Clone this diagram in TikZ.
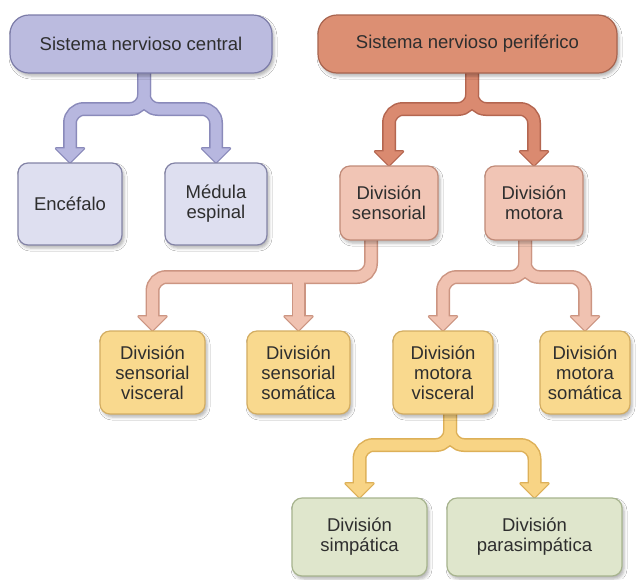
\documentclass[tikz,border=0pt]{standalone}
\usepackage{fontspec}
\setmainfont{Liberation Sans}
\usetikzlibrary{calc,shadows.blur,backgrounds}

\definecolor{txt}{HTML}{2E2E2E}
\definecolor{sncF}{HTML}{BBBBDF}
\definecolor{sncD}{HTML}{7C7CA8}
\definecolor{snckF}{HTML}{DEDFF0}
\definecolor{snckD}{HTML}{8383A6}
\definecolor{snpF}{HTML}{DC8F73}
\definecolor{snpD}{HTML}{A8644F}
\definecolor{divF}{HTML}{F1C5B5}
\definecolor{divD}{HTML}{C18B79}
\definecolor{yelF}{HTML}{F9D98E}
\definecolor{yelD}{HTML}{D3AD62}
\definecolor{grnF}{HTML}{DFE6CC}
\definecolor{grnD}{HTML}{A7B48E}
% connector colours
\definecolor{aSncF}{HTML}{B7B7DF}
\definecolor{aSncD}{HTML}{8A8ABA}
\definecolor{aSnpF}{HTML}{DA8A70}
\definecolor{aSnpD}{HTML}{B46650}
\definecolor{aDivF}{HTML}{F0C2B1}
\definecolor{aDivD}{HTML}{CC9582}
\definecolor{aYelF}{HTML}{F8D485}
\definecolor{aYelD}{HTML}{DDB058}

\tikzset{
  box/.style={draw, line width=1.2pt, align=center, text=txt,
    font=\fontsize{18.5}{20}\selectfont, inner sep=0pt,
    blur shadow={shadow xshift=2pt, shadow yshift=-3pt, shadow blur radius=3pt, shadow opacity=30}},
  topbox/.style={box, rounded corners=19pt},
  subbox/.style={box, rounded corners=10pt},
  band/.style={draw=#1, rounded corners=14pt, line cap=butt},
}

% outline pass of an arrowhead
\newcommand\headO[2]{%
  \filldraw[draw=#1, fill=#1, line width=2.4pt, line join=round]
    ($(#2.north)+(-14,-14)$) -- ($(#2.north)+(14,-14)$) -- (#2.north) -- cycle;}
% fill pass of an arrowhead
\newcommand\headI[2]{%
  \fill[#1] ($(#2.north)+(-14,-14)$) -- ($(#2.north)+(14,-14)$) -- (#2.north) -- cycle;}

% fork: #1 outline, #2 fill, #3 stem start, #4 level, #5 left child, #6 right child
\newcommand\fork[6]{%
  \draw[band=#1, line width=14pt] (#3) -- (#3 |- #4) -| ($(#5.north)+(0,-13)$);
  \draw[band=#1, line width=14pt] (#3) -- (#3 |- #4) -| ($(#6.north)+(0,-13)$);
  \headO{#1}{#5}\headO{#1}{#6}
  \draw[band=#2, line width=11pt] (#3) -- (#3 |- #4) -| ($(#5.north)+(0,-13)$);
  \draw[band=#2, line width=11pt] (#3) -- (#3 |- #4) -| ($(#6.north)+(0,-13)$);
  \headI{#2}{#5}\headI{#2}{#6}}

\begin{document}
\begin{tikzpicture}[x=1pt,y=-1pt]
\useasboundingbox (0,0) rectangle (636,579);

% ---------- nodes ----------
\node[topbox, fill=sncF, draw=sncD, minimum width=262pt, minimum height=58pt] (snc) at (141,44) {Sistema nervioso central};
\node[topbox, fill=snpF, draw=snpD, minimum width=299pt, minimum height=58pt] (snp) at (467.5,44) {Sistema nervioso periférico};

\node[subbox, fill=snckF, draw=snckD, minimum width=104pt, minimum height=82pt] (enc) at (70,204) {Encéfalo};
\node[subbox, fill=snckF, draw=snckD, minimum width=102pt, minimum height=82pt] (med) at (216,204) {Médula\\espinal};

\node[subbox, fill=divF, draw=divD, minimum width=98pt, minimum height=74pt] (sens) at (389,203) {División\\sensorial};
\node[subbox, fill=divF, draw=divD, minimum width=98pt, minimum height=74pt] (mot) at (534,203) {División\\motora};

\node[subbox, fill=yelF, draw=yelD, minimum width=105pt, minimum height=83pt] (sv) at (152.5,372.5) {División\\sensorial\\visceral};
\node[subbox, fill=yelF, draw=yelD, minimum width=103pt, minimum height=83pt] (ss) at (298.5,372.5) {División\\sensorial\\somática};
\node[subbox, fill=yelF, draw=yelD, minimum width=100pt, minimum height=83pt] (mv) at (443,372.5) {División\\motora\\visceral};
\node[subbox, fill=yelF, draw=yelD, minimum width=90pt, minimum height=83pt] (ms) at (585,372.5) {División\\motora\\somática};

\node[subbox, fill=grnF, draw=grnD, minimum width=135pt, minimum height=78pt] (simp) at (359.5,537) {División\\simpática};
\node[subbox, fill=grnF, draw=grnD, minimum width=175pt, minimum height=78pt] (para) at (534.5,537) {División\\parasimpática};

% ---------- connectors (behind the boxes) ----------
\begin{scope}[on background layer]
  \fill[white] (0,0) rectangle (636,579);

  \coordinate (s1) at ($(snc.south)+(3,-3)$);
  \coordinate (l1) at (0,109);
  \fork{aSncD}{aSncF}{s1}{l1}{enc}{med}

  \coordinate (s2) at ($(snp.south)+(4.5,-3)$);
  \coordinate (l2) at (0,109);
  \fork{aSnpD}{aSnpF}{s2}{l2}{sens}{mot}

  \coordinate (s3) at ($(sens.south)+(-18,-3)$);
  \coordinate (l3) at (0,277);
  % sensorial: rounded branch to the left, straight T branch down
  \draw[band=aDivD, line width=14pt] (s3) -- (s3 |- l3) -| ($(sv.north)+(0,-13)$);
  \draw[band=aDivD, line width=14pt] (ss.north |- l3) -- ($(ss.north)+(0,-13)$);
  \headO{aDivD}{sv}\headO{aDivD}{ss}
  \draw[band=aDivF, line width=11pt] (s3) -- (s3 |- l3) -| ($(sv.north)+(0,-13)$);
  \draw[band=aDivF, line width=11pt] (ss.north |- l3) -- ($(ss.north)+(0,-13)$);
  \headI{aDivF}{sv}\headI{aDivF}{ss}

  \coordinate (s4) at ($(mot.south)+(-9,-3)$);
  \coordinate (l4) at (0,277);
  \fork{aDivD}{aDivF}{s4}{l4}{mv}{ms}

  \coordinate (s5) at ($(mv.south)+(7,-3)$);
  \coordinate (l5) at (0,445);
  \fork{aYelD}{aYelF}{s5}{l5}{simp}{para}
\end{scope}
\end{tikzpicture}
\end{document}
